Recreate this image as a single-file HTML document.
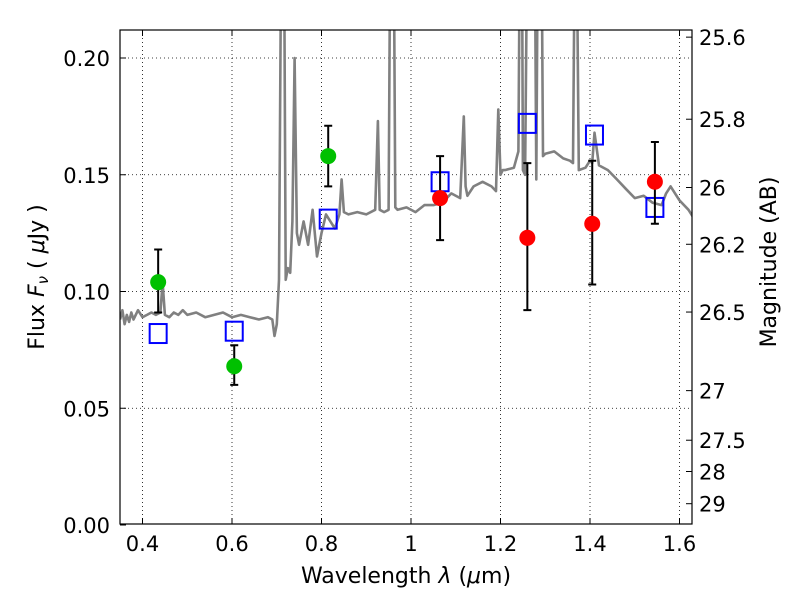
<!DOCTYPE html>
<html><head><meta charset="utf-8"><style>
body{margin:0;background:#fff}
svg text{font-family:"DejaVu Sans","Liberation Sans",sans-serif;fill:#000}
</style></head><body>
<svg id="c" width="800" height="600" xmlns="http://www.w3.org/2000/svg">
<defs><clipPath id="clip"><rect x="120" y="30" width="572" height="494"/></clipPath></defs>
<rect width="800" height="600" fill="#fff"/>
<g id="grid"></g>
<g id="spec" clip-path="url(#clip)"></g>
<g id="marks"></g>
<rect x="120" y="30" width="572" height="494" fill="none" stroke="#000" stroke-width="1.2"/>
<g id="axes"></g>
<text x="406" y="583" font-size="22" text-anchor="middle">Wavelength  <tspan font-style="italic">λ</tspan> (<tspan font-style="italic">μ</tspan>m)</text>
<text transform="translate(44,277) rotate(-90)" font-size="22" text-anchor="middle">Flux  <tspan font-style="italic">F</tspan><tspan font-style="italic" font-size="15" dy="4">ν</tspan><tspan dy="-4">  ( </tspan><tspan font-style="italic">μ</tspan>Jy )</text>
<text transform="translate(776,262) rotate(-90)" font-size="22" text-anchor="middle">Magnitude (AB)</text>
</svg>
<script>
const xTicks=[0.4,0.6,0.8,1.0,1.2,1.4,1.6];
const xTickLabels=["0.4","0.6","0.8","1","1.2","1.4","1.6"];
const yTicks=[0,0.05,0.1,0.15,0.2];
const yTickLabels=["0.00","0.05","0.10","0.15","0.20"];
const magTicks=[25.6,25.8,26,26.2,26.5,27,27.5,28,29];
const magTickLabels=["25.6","25.8","26","26.2","26.5","27","27.5","28","29"];
const specLam=[0.35,0.355,0.36,0.365,0.37,0.375,0.38,0.39,0.40,0.41,0.42,0.43,0.44,0.445,0.45,0.46,0.47,0.48,0.49,0.50,0.52,0.54,0.56,0.58,0.60,0.62,0.64,0.66,0.68,0.69,0.695,0.70,0.705,0.71,0.715,0.72,0.725,0.73,0.735,0.74,0.745,0.75,0.76,0.77,0.78,0.79,0.80,0.81,0.82,0.83,0.84,0.845,0.85,0.86,0.88,0.90,0.92,0.926,0.93,0.94,0.95,0.955,0.96,0.965,0.97,0.99,1.01,1.03,1.05,1.07,1.09,1.11,1.118,1.122,1.126,1.14,1.16,1.18,1.19,1.195,1.20,1.205,1.21,1.23,1.24,1.245,1.247,1.25,1.255,1.262,1.268,1.275,1.28,1.285,1.29,1.295,1.30,1.32,1.34,1.355,1.362,1.368,1.375,1.39,1.40,1.405,1.41,1.42,1.44,1.46,1.48,1.50,1.52,1.54,1.56,1.57,1.58,1.60,1.62,1.63];
const specFlux=[0.088,0.092,0.086,0.090,0.087,0.091,0.088,0.092,0.089,0.090,0.091,0.090,0.091,0.104,0.090,0.089,0.091,0.090,0.092,0.090,0.091,0.089,0.090,0.091,0.089,0.090,0.089,0.088,0.089,0.088,0.081,0.086,0.105,0.25,0.30,0.105,0.11,0.108,0.13,0.200,0.125,0.12,0.13,0.12,0.135,0.115,0.125,0.133,0.130,0.127,0.133,0.148,0.134,0.133,0.134,0.133,0.135,0.173,0.135,0.134,0.135,0.30,0.30,0.136,0.135,0.136,0.134,0.137,0.137,0.138,0.142,0.140,0.175,0.145,0.141,0.145,0.147,0.145,0.143,0.178,0.150,0.152,0.152,0.153,0.160,0.30,0.30,0.152,0.150,0.30,0.30,0.30,0.148,0.30,0.30,0.158,0.159,0.160,0.157,0.156,0.155,0.30,0.152,0.153,0.156,0.155,0.168,0.154,0.152,0.148,0.144,0.140,0.141,0.138,0.137,0.142,0.145,0.139,0.135,0.132,0.125];
const greenLam=[0.435,0.605,0.815];
const greenFlux=[0.104,0.068,0.158];
const greenLo=[0.091,0.060,0.145];
const greenHi=[0.118,0.077,0.171];
const redLam=[1.065,1.26,1.405,1.545];
const redFlux=[0.140,0.123,0.129,0.147];
const redLo=[0.122,0.092,0.103,0.129];
const redHi=[0.158,0.155,0.156,0.164];
const modelLam=[0.435,0.605,0.815,1.065,1.26,1.41,1.545];
const modelFlux=[0.082,0.083,0.131,0.147,0.172,0.167,0.136];

const X=l=>142.5+(l-0.4)*447.5;
const Y=f=>525-f*2335;
const magToFlux=m=>Math.pow(10,(23.9-m)/2.5);
const NS="http://www.w3.org/2000/svg";
function mk(p,t,a){const e=document.createElementNS(NS,t);for(const k in a)e.setAttribute(k,a[k]);p.appendChild(e);return e;}
const grid=document.getElementById('grid'),axes=document.getElementById('axes');
xTicks.forEach((v,i)=>{const x=X(v);
 const g=mk(grid,'line',{x1:x,x2:x,y1:30,y2:524,stroke:'#000','stroke-width':0.8,'stroke-dasharray':'1,3'});
 
 const t=mk(axes,'line',{x1:x,x2:x,y1:524,y2:518,stroke:'#000'});
 const t2=mk(axes,'line',{x1:x,x2:x,y1:30,y2:36,stroke:'#000'});
 const l=mk(axes,'text',{x:x,y:551,'font-size':21,'text-anchor':'middle'});l.textContent=xTickLabels[i];
 });
yTicks.forEach((v,i)=>{const y=Y(v);
 if(v>0){const g=mk(grid,'line',{x1:120,x2:692,y1:y,y2:y,stroke:'#000','stroke-width':0.8,'stroke-dasharray':'1,3'});
 }
 const t=mk(axes,'line',{x1:120,x2:126,y1:y,y2:y,stroke:'#000'});
 const l=mk(axes,'text',{x:110,y:y+8,'font-size':21,'text-anchor':'end'});l.textContent=yTickLabels[i];
 });
magTicks.forEach((m,i)=>{const y=Y(magToFlux(m));
 const t=mk(axes,'line',{x1:692,x2:686,y1:y,y2:y,stroke:'#000'});
 const l=mk(axes,'text',{x:699,y:y+8,'font-size':21});l.textContent=magTickLabels[i];
 });
const spec=document.getElementById('spec');
const sp=mk(spec,'polyline',{points:specLam.map((l,i)=>X(l).toFixed(1)+','+Y(specFlux[i]).toFixed(1)).join(' '),fill:'none',stroke:'#808080','stroke-width':2.6,'stroke-linejoin':'round'});

const marks=document.getElementById('marks');
function errbar(l,lo,hi){const x=X(l);
 const g=mk(marks,'path',{d:`M${x},${Y(lo)}V${Y(hi)}M${x-4},${Y(lo)}H${x+4}M${x-4},${Y(hi)}H${x+4}`,stroke:'#000','stroke-width':2,fill:'none'});
 }
modelLam.forEach((l,i)=>{const r=mk(marks,'rect',{x:X(l)-8.5,y:Y(modelFlux[i])-9.5,width:17,height:19,fill:'none',stroke:'#0000ff','stroke-width':2});
 });
greenLam.forEach((l,i)=>{errbar(l,greenLo[i],greenHi[i]);
 const c=mk(marks,'circle',{cx:X(l),cy:Y(greenFlux[i]),r:8,fill:'#00c000'});
 });
redLam.forEach((l,i)=>{errbar(l,redLo[i],redHi[i]);
 const c=mk(marks,'circle',{cx:X(l),cy:Y(redFlux[i]),r:8,fill:'#ff0000'});
 });
</script>
</body></html>
